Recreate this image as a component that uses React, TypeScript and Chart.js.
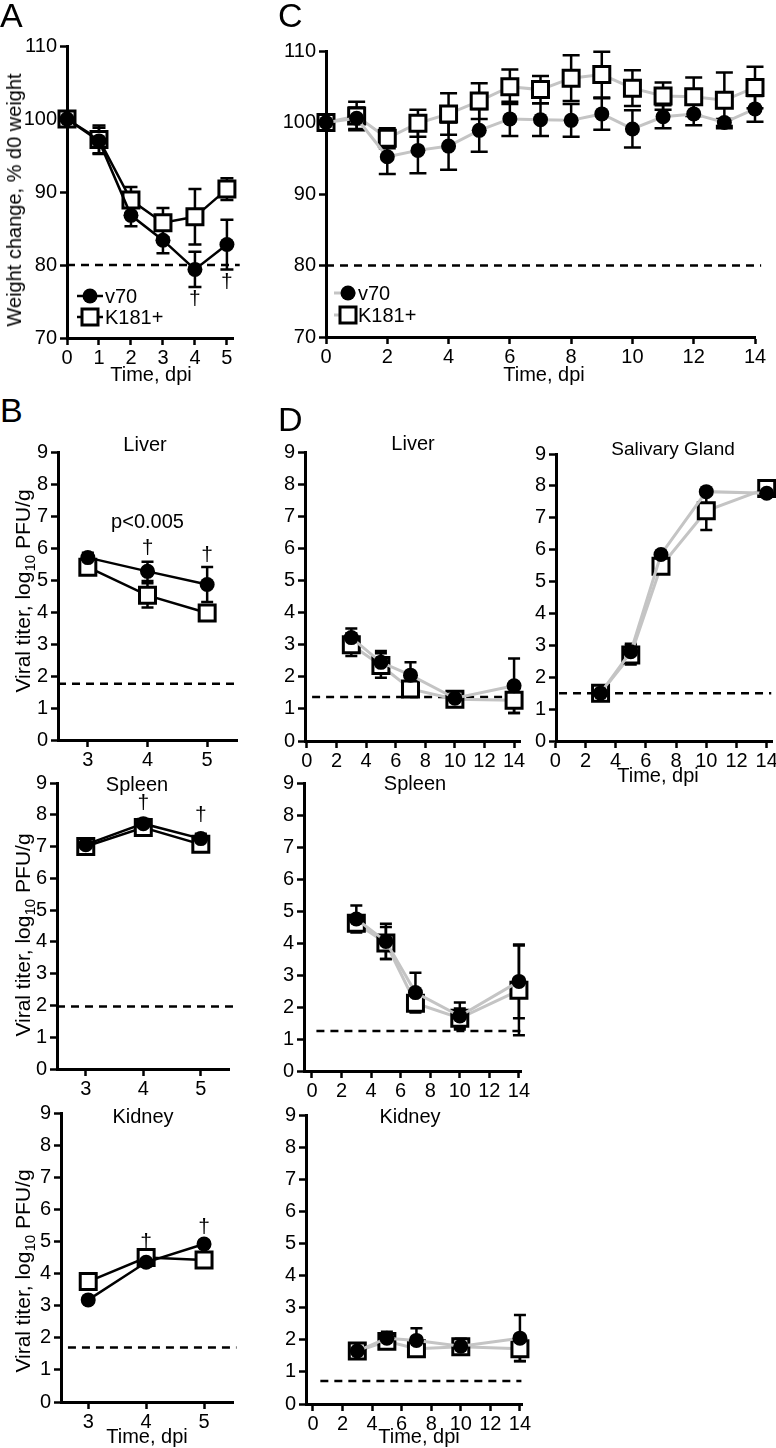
import React, { useEffect, useRef } from "react";
import { Chart, registerables } from "chart.js";

Chart.register(...registerables);

const FONT = '"Liberation Sans", Arial, Helvetica, sans-serif';
const BLACK = "#000000";
const GRAY = "#c4c4c4";

// ---------- data ----------
const SERIES = ["v70", "K181+"];

// Panel A: weight change, days 0-5
const A_DAYS = [0, 1, 2, 3, 4, 5];
const A_V70 = [100, 97.0, 86.8, 83.4, 79.4, 82.8];
const A_V70_SEM = [0, 1.8, 1.5, 1.8, 2.4, 3.4];
const A_K181 = [100, 97.2, 88.9, 85.8, 86.6, 90.4];
const A_K181_SEM = [0, 1.9, 1.8, 2.0, 3.8, 1.5];
const A_X_TICKS = [0, 1, 2, 3, 4, 5];
const WEIGHT_Y_TICKS = [70, 80, 90, 100, 110];
const A_LOD = 80;
const A_DAGGER_X = [4, 5];
const A_DAGGER_Y = [75.3, 77.7];

// Panel C: weight change, days 0-14
const C_DAYS = [0, 1, 2, 3, 4, 5, 6, 7, 8, 9, 10, 11, 12, 13, 14];
const C_V70 = [100, 100.6, 95.2, 96.1, 96.7, 98.9, 100.5, 100.4, 100.3, 101.2, 99.1, 100.8, 101.2, 100.0, 101.9];
const C_V70_SEM = [0, 1.5, 2.4, 3.2, 3.3, 3.0, 2.4, 2.3, 2.3, 2.2, 2.6, 1.6, 1.6, 0.5, 1.8];
const C_K181 = [100, 100.9, 97.8, 99.9, 101.2, 103.0, 105.0, 104.6, 106.2, 106.7, 104.8, 103.7, 103.6, 103.1, 104.9];
const C_K181_SEM = [0, 2.0, 1.4, 1.9, 2.9, 2.5, 2.4, 1.9, 3.2, 3.2, 2.5, 1.9, 2.7, 3.9, 2.9];
const C_X_TICKS = [0, 2, 4, 6, 8, 10, 12, 14];
const C_LOD = 80;

// Panel B: titers at days 3-5
const B_DAYS = [3, 4, 5];
const B_X_TICKS = [3, 4, 5];
const TITER_Y_TICKS = [0, 1, 2, 3, 4, 5, 6, 7, 8, 9];

const B_LIVER_V70 = [5.7, 5.27, 4.86];
const B_LIVER_V70_SEM = [0.15, 0.3, 0.55];
const B_LIVER_K181 = [5.4, 4.52, 3.97];
const B_LIVER_K181_SEM = [0.12, 0.38, 0.15];
const B_LIVER_LOD = 1.76;

const B_SPLEEN_V70 = [7.06, 7.72, 7.25];
const B_SPLEEN_V70_SEM = [0.12, 0.15, 0.15];
const B_SPLEEN_K181 = [7.0, 7.6, 7.07];
const B_SPLEEN_K181_SEM = [0.1, 0.12, 0.12];
const B_SPLEEN_LOD = 1.97;

const B_KIDNEY_V70 = [3.18, 4.35, 4.92];
const B_KIDNEY_V70_SEM = [0.1, 0.12, 0.1];
const B_KIDNEY_K181 = [3.75, 4.5, 4.42];
const B_KIDNEY_K181_SEM = [0.1, 0.15, 0.15];
const B_KIDNEY_LOD = 1.7;

const B_DAGGER_X = [4, 5];
const B_LIVER_DAGGER_Y = [6.0, 5.78];
const B_SPLEEN_DAGGER_Y = [8.36, 7.99];
const B_KIDNEY_DAGGER_Y = [4.98, 5.45];
const B_LIVER_P_TEXT = "p<0.005";
const B_LIVER_P_AT = [4, 6.8];

// Panel D: titers at days 3-14
const D_DAYS = [3, 5, 7, 10, 14];
const D_X_TICKS = [0, 2, 4, 6, 8, 10, 12, 14];

const D_LIVER_V70 = [3.22, 2.45, 2.05, 1.33, 1.72];
const D_LIVER_V70_SEM = [0.28, 0.35, 0.4, 0.1, 0.85];
const D_LIVER_K181 = [3.0, 2.35, 1.62, 1.3, 1.27];
const D_LIVER_K181_SEM = [0.35, 0.38, 0.2, 0.08, 0.4];
const D_LIVER_LOD = 1.37;

const D_SG_V70 = [1.5, 2.8, 5.85, 7.82, 7.77];
const D_SG_V70_SEM = [0.08, 0.25, 0.1, 0.08, 0.05];
const D_SG_K181 = [1.5, 2.7, 5.48, 7.22, 7.92];
const D_SG_K181_SEM = [0.08, 0.3, 0.12, 0.6, 0.08];
const D_SG_LOD = 1.5;

const D_SPLEEN_V70 = [4.75, 4.05, 2.45, 1.72, 2.8];
const D_SPLEEN_V70_SEM = [0.42, 0.55, 0.62, 0.42, 1.15];
const D_SPLEEN_K181 = [4.62, 4.0, 2.12, 1.65, 2.52];
const D_SPLEEN_K181_SEM = [0.2, 0.5, 0.25, 0.3, 1.4];
const D_SPLEEN_LOD = 1.25;

const D_KIDNEY_V70 = [1.65, 2.05, 1.98, 1.8, 2.05];
const D_KIDNEY_V70_SEM = [0.08, 0.2, 0.38, 0.22, 0.72];
const D_KIDNEY_K181 = [1.65, 1.95, 1.72, 1.78, 1.72];
const D_KIDNEY_K181_SEM = [0.08, 0.2, 0.2, 0.25, 0.38];
const D_KIDNEY_LOD = 0.72;

// ---------- chart building ----------
const PAD = { l: 60, r: 24, t: 16, b: 42 };

type Note = { x: number; y: number; text: string; size: number };
type KeyCfg = { markerDx: number; lineFrom: number; lineTo: number; textDx: number; rowsDy: number[] };
type PanelCfg = {
  box: [number, number, number, number];
  xRange: [number, number];
  yRange: [number, number];
  xTicks: number[];
  yTicks: number[];
  days: number[];
  v70: number[];
  v70Sem: number[];
  k181: number[];
  k181Sem: number[];
  lineColor: string;
  lineWidth: number;
  lod: number;
  lodFrom: number;
  lodTo: number;
  cap: number;
  xTickSize: number;
  yTickSize: number;
  notes?: Note[];
  key?: KeyCfg;
};

function drawMarker(ctx: CanvasRenderingContext2D, kind: string, x: number, y: number) {
  if (kind === "circle") {
    ctx.beginPath();
    ctx.arc(x, y, 7.5, 0, Math.PI * 2);
    ctx.fillStyle = BLACK;
    ctx.fill();
  } else {
    ctx.beginPath();
    ctx.rect(x - 8, y - 8, 16, 16);
    ctx.fillStyle = "#fff";
    ctx.fill();
    ctx.lineWidth = 3;
    ctx.strokeStyle = BLACK;
    ctx.stroke();
  }
}

function buildChart(canvas: HTMLCanvasElement, cfg: PanelCfg) {
  const errPlugin = {
    id: "errbars",
    beforeDatasetsDraw(chart: any) {
      const { ctx } = chart;
      const xs = chart.scales.x;
      const ys = chart.scales.y;
      ctx.save();
      ctx.strokeStyle = BLACK;
      ctx.lineWidth = 2.5;
      chart.data.datasets.forEach((ds: any) => {
        if (!ds.sem) return;
        ds.data.forEach((p: any, i: number) => {
          const e = ds.sem[i];
          if (!e) return;
          const px = xs.getPixelForValue(p.x);
          const yt = ys.getPixelForValue(p.y + e);
          const yb = ys.getPixelForValue(p.y - e);
          ctx.beginPath();
          ctx.moveTo(px, yt);
          ctx.lineTo(px, yb);
          ctx.moveTo(px - cfg.cap, yt);
          ctx.lineTo(px + cfg.cap, yt);
          ctx.moveTo(px - cfg.cap, yb);
          ctx.lineTo(px + cfg.cap, yb);
          ctx.stroke();
        });
      });
      ctx.restore();
    },
  };

  const notesPlugin = {
    id: "notes",
    afterDatasetsDraw(chart: any) {
      const { ctx } = chart;
      const xs = chart.scales.x;
      const ys = chart.scales.y;
      ctx.save();
      ctx.fillStyle = BLACK;
      ctx.textAlign = "center";
      ctx.textBaseline = "middle";
      (cfg.notes || []).forEach((n) => {
        ctx.font = `${n.size}px ${FONT}`;
        ctx.fillText(n.text, xs.getPixelForValue(n.x), ys.getPixelForValue(n.y));
      });
      ctx.restore();
    },
  };

  const keyPlugin = {
    id: "seriesKey",
    afterDatasetsDraw(chart: any) {
      const k = cfg.key;
      if (!k) return;
      const { ctx, chartArea } = chart;
      ctx.save();
      SERIES.forEach((label, i) => {
        const y = chartArea.top + k.rowsDy[i];
        ctx.beginPath();
        ctx.strokeStyle = cfg.lineColor;
        ctx.lineWidth = cfg.lineWidth;
        ctx.moveTo(chartArea.left + k.lineFrom, y);
        ctx.lineTo(chartArea.left + k.lineTo, y);
        ctx.stroke();
        drawMarker(ctx, i === 0 ? "circle" : "rect", chartArea.left + k.markerDx, y);
        ctx.fillStyle = BLACK;
        ctx.font = `20px ${FONT}`;
        ctx.textAlign = "left";
        ctx.textBaseline = "middle";
        ctx.fillText(label, chartArea.left + k.textDx, y + 1);
      });
      ctx.restore();
    },
  };

  const pts = (arr: number[]) => cfg.days.map((d, i) => ({ x: d, y: arr[i] }));

  const axisCommon = {
    type: "linear",
    border: { display: true, color: BLACK, width: 3 },
    grid: {
      display: true,
      drawOnChartArea: false,
      drawTicks: true,
      tickLength: 7,
      tickWidth: 2.5,
      tickColor: BLACK,
    },
  };

  return new Chart(canvas, {
    type: "line",
    data: {
      datasets: [
        {
          label: SERIES[0],
          data: pts(cfg.v70),
          sem: cfg.v70Sem,
          borderColor: cfg.lineColor,
          borderWidth: cfg.lineWidth,
          pointStyle: "circle",
          pointRadius: 7.5,
          pointBackgroundColor: BLACK,
          pointBorderColor: BLACK,
          pointBorderWidth: 0,
          tension: 0,
          clip: false,
        } as any,
        {
          label: SERIES[1],
          data: pts(cfg.k181),
          sem: cfg.k181Sem,
          borderColor: cfg.lineColor,
          borderWidth: cfg.lineWidth,
          pointStyle: "rect",
          pointRadius: 11.3,
          pointBackgroundColor: "#ffffff",
          pointBorderColor: BLACK,
          pointBorderWidth: 3,
          tension: 0,
          clip: false,
        } as any,
        {
          label: "LOD",
          data: [
            { x: cfg.lodFrom, y: cfg.lod },
            { x: cfg.lodTo, y: cfg.lod },
          ],
          borderColor: BLACK,
          borderWidth: 2.5,
          borderDash: [8, 6],
          pointRadius: 0,
          clip: false,
        } as any,
      ],
    },
    options: {
      animation: false,
      responsive: false,
      events: [],
      layout: { padding: { left: 0, right: PAD.r, top: PAD.t, bottom: 0 }, autoPadding: false } as any,
      plugins: { legend: { display: false }, tooltip: { enabled: false }, title: { display: false } },
      scales: {
        x: {
          ...axisCommon,
          min: cfg.xRange[0],
          max: cfg.xRange[1],
          afterFit: (s: any) => {
            s.height = PAD.b;
          },
          afterBuildTicks: (s: any) => {
            s.ticks = cfg.xTicks.map((v) => ({ value: v }));
          },
          ticks: {
            color: BLACK,
            font: { family: FONT, size: cfg.xTickSize },
            padding: 1,
            maxRotation: 0,
            autoSkip: false,
          },
        },
        y: {
          ...axisCommon,
          min: cfg.yRange[0],
          max: cfg.yRange[1],
          afterFit: (s: any) => {
            s.width = PAD.l;
          },
          afterBuildTicks: (s: any) => {
            s.ticks = cfg.yTicks.map((v) => ({ value: v }));
          },
          ticks: {
            color: BLACK,
            font: { family: FONT, size: cfg.yTickSize },
            padding: 3,
            autoSkip: false,
          },
        },
      } as any,
    },
    plugins: [errPlugin, notesPlugin, keyPlugin],
  } as any);
}

function Panel({ cfg }: { cfg: PanelCfg }) {
  const ref = useRef<HTMLCanvasElement>(null);
  useEffect(() => {
    const c = buildChart(ref.current as HTMLCanvasElement, cfg);
    return () => c.destroy();
  }, []);
  const [x0, y0, x1, y1] = cfg.box;
  const w = x1 - x0 + PAD.l + PAD.r;
  const h = y1 - y0 + PAD.t + PAD.b;
  return (
    <canvas
      ref={ref}
      width={w}
      height={h}
      style={{ position: "absolute", left: x0 - PAD.l, top: y0 - PAD.t, width: w, height: h }}
    />
  );
}

function daggers(xs: number[], ys: number[]): Note[] {
  return xs.map((x, i) => ({ x, y: ys[i], text: "†", size: 21 }));
}

const common = { cap: 6, lineWidth: 2.5, yTickSize: 20, xTickSize: 20 };

const PANELS: PanelCfg[] = [
  {
    ...common,
    box: [67, 46, 233, 338],
    xRange: [0, 5.19],
    yRange: [70, 110],
    xTicks: A_X_TICKS,
    yTicks: WEIGHT_Y_TICKS,
    days: A_DAYS,
    v70: A_V70,
    v70Sem: A_V70_SEM,
    k181: A_K181,
    k181Sem: A_K181_SEM,
    lineColor: BLACK,
    lod: A_LOD,
    lodFrom: 0,
    lodTo: 5.4,
    cap: 6.5,
    notes: daggers(A_DAGGER_X, A_DAGGER_Y),
    key: { markerDx: 23, lineFrom: 10, lineTo: 36, textDx: 38, rowsDy: [250, 271] },
  },
  {
    ...common,
    box: [326, 51, 755, 337],
    xRange: [0, 14],
    yRange: [70, 110],
    xTicks: C_X_TICKS,
    yTicks: WEIGHT_Y_TICKS,
    days: C_DAYS,
    v70: C_V70,
    v70Sem: C_V70_SEM,
    k181: C_K181,
    k181Sem: C_K181_SEM,
    lineColor: GRAY,
    lineWidth: 3,
    lod: C_LOD,
    lodFrom: 0,
    lodTo: 14.2,
    cap: 8.5,
    key: { markerDx: 22, lineFrom: 8, lineTo: 30, textDx: 32, rowsDy: [242, 264] },
  },
  {
    ...common,
    box: [58, 452, 237, 740],
    xRange: [2.5, 5.5],
    yRange: [0, 9],
    xTicks: B_X_TICKS,
    yTicks: TITER_Y_TICKS,
    days: B_DAYS,
    v70: B_LIVER_V70,
    v70Sem: B_LIVER_V70_SEM,
    k181: B_LIVER_K181,
    k181Sem: B_LIVER_K181_SEM,
    lineColor: BLACK,
    lod: B_LIVER_LOD,
    lodFrom: 2.5,
    lodTo: 5.47,
    notes: [
      ...daggers(B_DAGGER_X, B_LIVER_DAGGER_Y),
      { x: B_LIVER_P_AT[0], y: B_LIVER_P_AT[1], text: B_LIVER_P_TEXT, size: 20 },
    ],
  },
  {
    ...common,
    box: [57, 783, 229, 1069],
    xRange: [2.5, 5.49],
    yRange: [0, 9],
    xTicks: B_X_TICKS,
    yTicks: TITER_Y_TICKS,
    days: B_DAYS,
    v70: B_SPLEEN_V70,
    v70Sem: B_SPLEEN_V70_SEM,
    k181: B_SPLEEN_K181,
    k181Sem: B_SPLEEN_K181_SEM,
    lineColor: BLACK,
    lod: B_SPLEEN_LOD,
    lodFrom: 2.5,
    lodTo: 5.63,
    notes: daggers(B_DAGGER_X, B_SPLEEN_DAGGER_Y),
  },
  {
    ...common,
    box: [61, 1113, 233, 1402],
    xRange: [2.53, 5.5],
    yRange: [0, 9],
    xTicks: B_X_TICKS,
    yTicks: TITER_Y_TICKS,
    days: B_DAYS,
    v70: B_KIDNEY_V70,
    v70Sem: B_KIDNEY_V70_SEM,
    k181: B_KIDNEY_K181,
    k181Sem: B_KIDNEY_K181_SEM,
    lineColor: BLACK,
    lod: B_KIDNEY_LOD,
    lodFrom: 2.65,
    lodTo: 5.56,
    notes: daggers(B_DAGGER_X, B_KIDNEY_DAGGER_Y),
  },
  {
    ...common,
    box: [305, 452, 520, 741],
    xRange: [-0.13, 14.4],
    yRange: [0, 9],
    xTicks: D_X_TICKS,
    yTicks: TITER_Y_TICKS,
    days: D_DAYS,
    v70: D_LIVER_V70,
    v70Sem: D_LIVER_V70_SEM,
    k181: D_LIVER_K181,
    k181Sem: D_LIVER_K181_SEM,
    lineColor: GRAY,
    lineWidth: 3,
    lod: D_LIVER_LOD,
    lodFrom: 0.35,
    lodTo: 14.2,
  },
  {
    ...common,
    box: [556, 454, 772, 741],
    xRange: [0.05, 14.35],
    yRange: [0, 9],
    xTicks: D_X_TICKS,
    yTicks: TITER_Y_TICKS,
    days: D_DAYS,
    v70: D_SG_V70,
    v70Sem: D_SG_V70_SEM,
    k181: D_SG_K181,
    k181Sem: D_SG_K181_SEM,
    lineColor: GRAY,
    lineWidth: 3,
    lod: D_SG_LOD,
    lodFrom: 0.25,
    lodTo: 14.3,
  },
  {
    ...common,
    box: [304, 783, 521, 1071],
    xRange: [-0.54, 14.14],
    yRange: [0, 9],
    xTicks: D_X_TICKS,
    yTicks: TITER_Y_TICKS,
    days: D_DAYS,
    v70: D_SPLEEN_V70,
    v70Sem: D_SPLEEN_V70_SEM,
    k181: D_SPLEEN_K181,
    k181Sem: D_SPLEEN_K181_SEM,
    lineColor: GRAY,
    lineWidth: 3,
    lod: D_SPLEEN_LOD,
    lodFrom: 0.3,
    lodTo: 14.1,
  },
  {
    ...common,
    box: [306, 1115, 522, 1404],
    xRange: [-0.47, 14.14],
    yRange: [0, 9],
    xTicks: D_X_TICKS,
    yTicks: TITER_Y_TICKS,
    days: D_DAYS,
    v70: D_KIDNEY_V70,
    v70Sem: D_KIDNEY_V70_SEM,
    k181: D_KIDNEY_K181,
    k181Sem: D_KIDNEY_K181_SEM,
    lineColor: GRAY,
    lineWidth: 3,
    lod: D_KIDNEY_LOD,
    lodFrom: 0.5,
    lodTo: 14.1,
  },
];

// ---------- text ----------
function Centered({ x, y, size, children, rotate }: any) {
  return (
    <div
      style={{
        position: "absolute",
        left: x,
        top: y,
        transform: `translate(-50%, -50%)${rotate ? " rotate(-90deg)" : ""}`,
        whiteSpace: "nowrap",
        fontFamily: FONT,
        fontSize: size,
        lineHeight: 1,
        color: BLACK,
      }}
    >
      {children}
    </div>
  );
}

function Letter({ ch, x, baseline }: { ch: string; x: number; baseline: number }) {
  const fs = 34;
  return (
    <div
      style={{
        position: "absolute",
        left: x,
        top: baseline - 0.8465 * fs,
        fontFamily: FONT,
        fontSize: fs,
        lineHeight: 1,
        color: BLACK,
      }}
    >
      {ch}
    </div>
  );
}

const TITER_LABEL = (
  <>
    Viral titer, log<sub style={{ fontSize: "0.72em", lineHeight: 0 }}>10</sub> PFU/g
  </>
);

export default function App() {
  return (
    <div
      style={{
        position: "absolute",
        left: 0,
        top: 0,
        width: 776,
        height: 1448,
        background: "#ffffff",
        overflow: "hidden",
      }}
    >
      {PANELS.map((p, i) => (
        <Panel key={i} cfg={p} />
      ))}

      <Letter ch="A" x={0} baseline={27} />
      <Letter ch="C" x={278} baseline={27} />
      <Letter ch="B" x={0} baseline={422} />
      <Letter ch="D" x={278} baseline={431} />

      <Centered x={14} y={200} size={20} rotate>
        Weight change, % d0 weight
      </Centered>
      <Centered x={22} y={591} size={21} rotate>
        {TITER_LABEL}
      </Centered>
      <Centered x={22} y={935} size={21} rotate>
        {TITER_LABEL}
      </Centered>
      <Centered x={22} y={1271} size={21} rotate>
        {TITER_LABEL}
      </Centered>

      <Centered x={151} y={374} size={20}>Time, dpi</Centered>
      <Centered x={544} y={374} size={20}>Time, dpi</Centered>
      <Centered x={658} y={775} size={20}>Time, dpi</Centered>
      <Centered x={147} y={1436} size={20}>Time, dpi</Centered>
      <Centered x={419} y={1436} size={20}>Time, dpi</Centered>

      <Centered x={145} y={444} size={20}>Liver</Centered>
      <Centered x={413} y={443} size={20}>Liver</Centered>
      <Centered x={673} y={448} size={19}>Salivary Gland</Centered>
      <Centered x={137} y={784} size={20}>Spleen</Centered>
      <Centered x={415} y={783} size={20}>Spleen</Centered>
      <Centered x={143} y={1116} size={20}>Kidney</Centered>
      <Centered x={410} y={1116} size={20}>Kidney</Centered>
    </div>
  );
}
